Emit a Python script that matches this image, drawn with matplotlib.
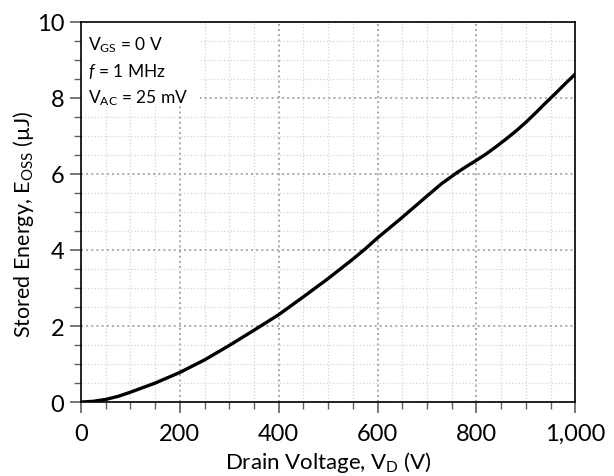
import matplotlib
matplotlib.use("Agg")
import matplotlib.pyplot as plt
from matplotlib.patches import Rectangle
from matplotlib.ticker import MultipleLocator, FuncFormatter

plt.rcParams["font.family"] = ["Lato", "DejaVu Sans"]
plt.rcParams["mathtext.fontset"] = "custom"
plt.rcParams["mathtext.rm"] = "Lato"
plt.rcParams["mathtext.it"] = "Lato:italic"

# drain voltage (V) and stored energy (uJ)
vd = [0, 25, 50, 75, 100, 150, 200, 250, 300, 350, 400, 450, 500, 550, 575,
      600, 650, 700, 730, 760, 780, 800, 820, 840, 860, 880, 900, 920, 940,
      960, 980, 1000]
eoss = [0, 0.02, 0.07, 0.15, 0.26, 0.5, 0.78, 1.11, 1.49, 1.89, 2.3, 2.77,
        3.25, 3.76, 4.03, 4.32, 4.86, 5.42, 5.75, 6.03, 6.2, 6.36, 6.53,
        6.72, 6.92, 7.13, 7.36, 7.61, 7.87, 8.12, 8.38, 8.63]

fig = plt.figure(figsize=(6.14, 4.77), dpi=100)
ax = fig.add_axes([0.132, 0.155, 0.805, 0.797])

ax.plot(vd, eoss, color="black", lw=2.4, zorder=3, solid_joinstyle="round")

ax.set_xlim(0, 1000)
ax.set_ylim(0, 10)
ax.xaxis.set_major_locator(MultipleLocator(200))
ax.xaxis.set_minor_locator(MultipleLocator(50))
ax.yaxis.set_major_locator(MultipleLocator(2))
ax.yaxis.set_minor_locator(MultipleLocator(0.5))
ax.xaxis.set_major_formatter(FuncFormatter(lambda v, p: f"{int(v):,}"))

ax.set_axisbelow(True)
ax.grid(which="major", color="#a8a8a8", linestyle=":", lw=1.4)
ax.grid(which="minor", color="#d4d4d4", linestyle=":", lw=0.9)

ax.tick_params(which="major", direction="out", length=8, width=1.2,
               color="#606060", labelsize=17)
ax.tick_params(which="minor", direction="out", length=5, width=1,
               color="#606060")
ax.tick_params(axis="x", which="major", pad=7)
ax.tick_params(axis="y", which="major", pad=4)

for s in ax.spines.values():
    s.set_linewidth(1.2)

# white patch behind the condition text
ax.add_patch(Rectangle((0, 0.785), 0.24, 0.215, transform=ax.transAxes,
                       facecolor="white", edgecolor="none", zorder=1))
ax.text(0.014, 0.942, r"V$_{\mathregular{GS}}$ = 0 V", transform=ax.transAxes,
        fontsize=12.5, va="center", zorder=4)
ax.text(0.014, 0.871, r"$\mathit{f}$ = 1 MHz", transform=ax.transAxes,
        fontsize=12.5, va="center", zorder=4)
ax.text(0.014, 0.803, r"V$_{\mathregular{AC}}$ = 25 mV", transform=ax.transAxes,
        fontsize=12.5, va="center", zorder=4)

ax.set_xlabel(r"Drain Voltage, V$_{\mathregular{D}}$ (V)", fontsize=16)
ax.set_ylabel(r"Stored Energy, E$_{\mathregular{OSS}}$ (µJ)", fontsize=15.5)
ax.xaxis.set_label_coords(0.5, -0.124)
ax.yaxis.set_label_coords(-0.092, 0.47)

fig.savefig("out.png", dpi=100)
